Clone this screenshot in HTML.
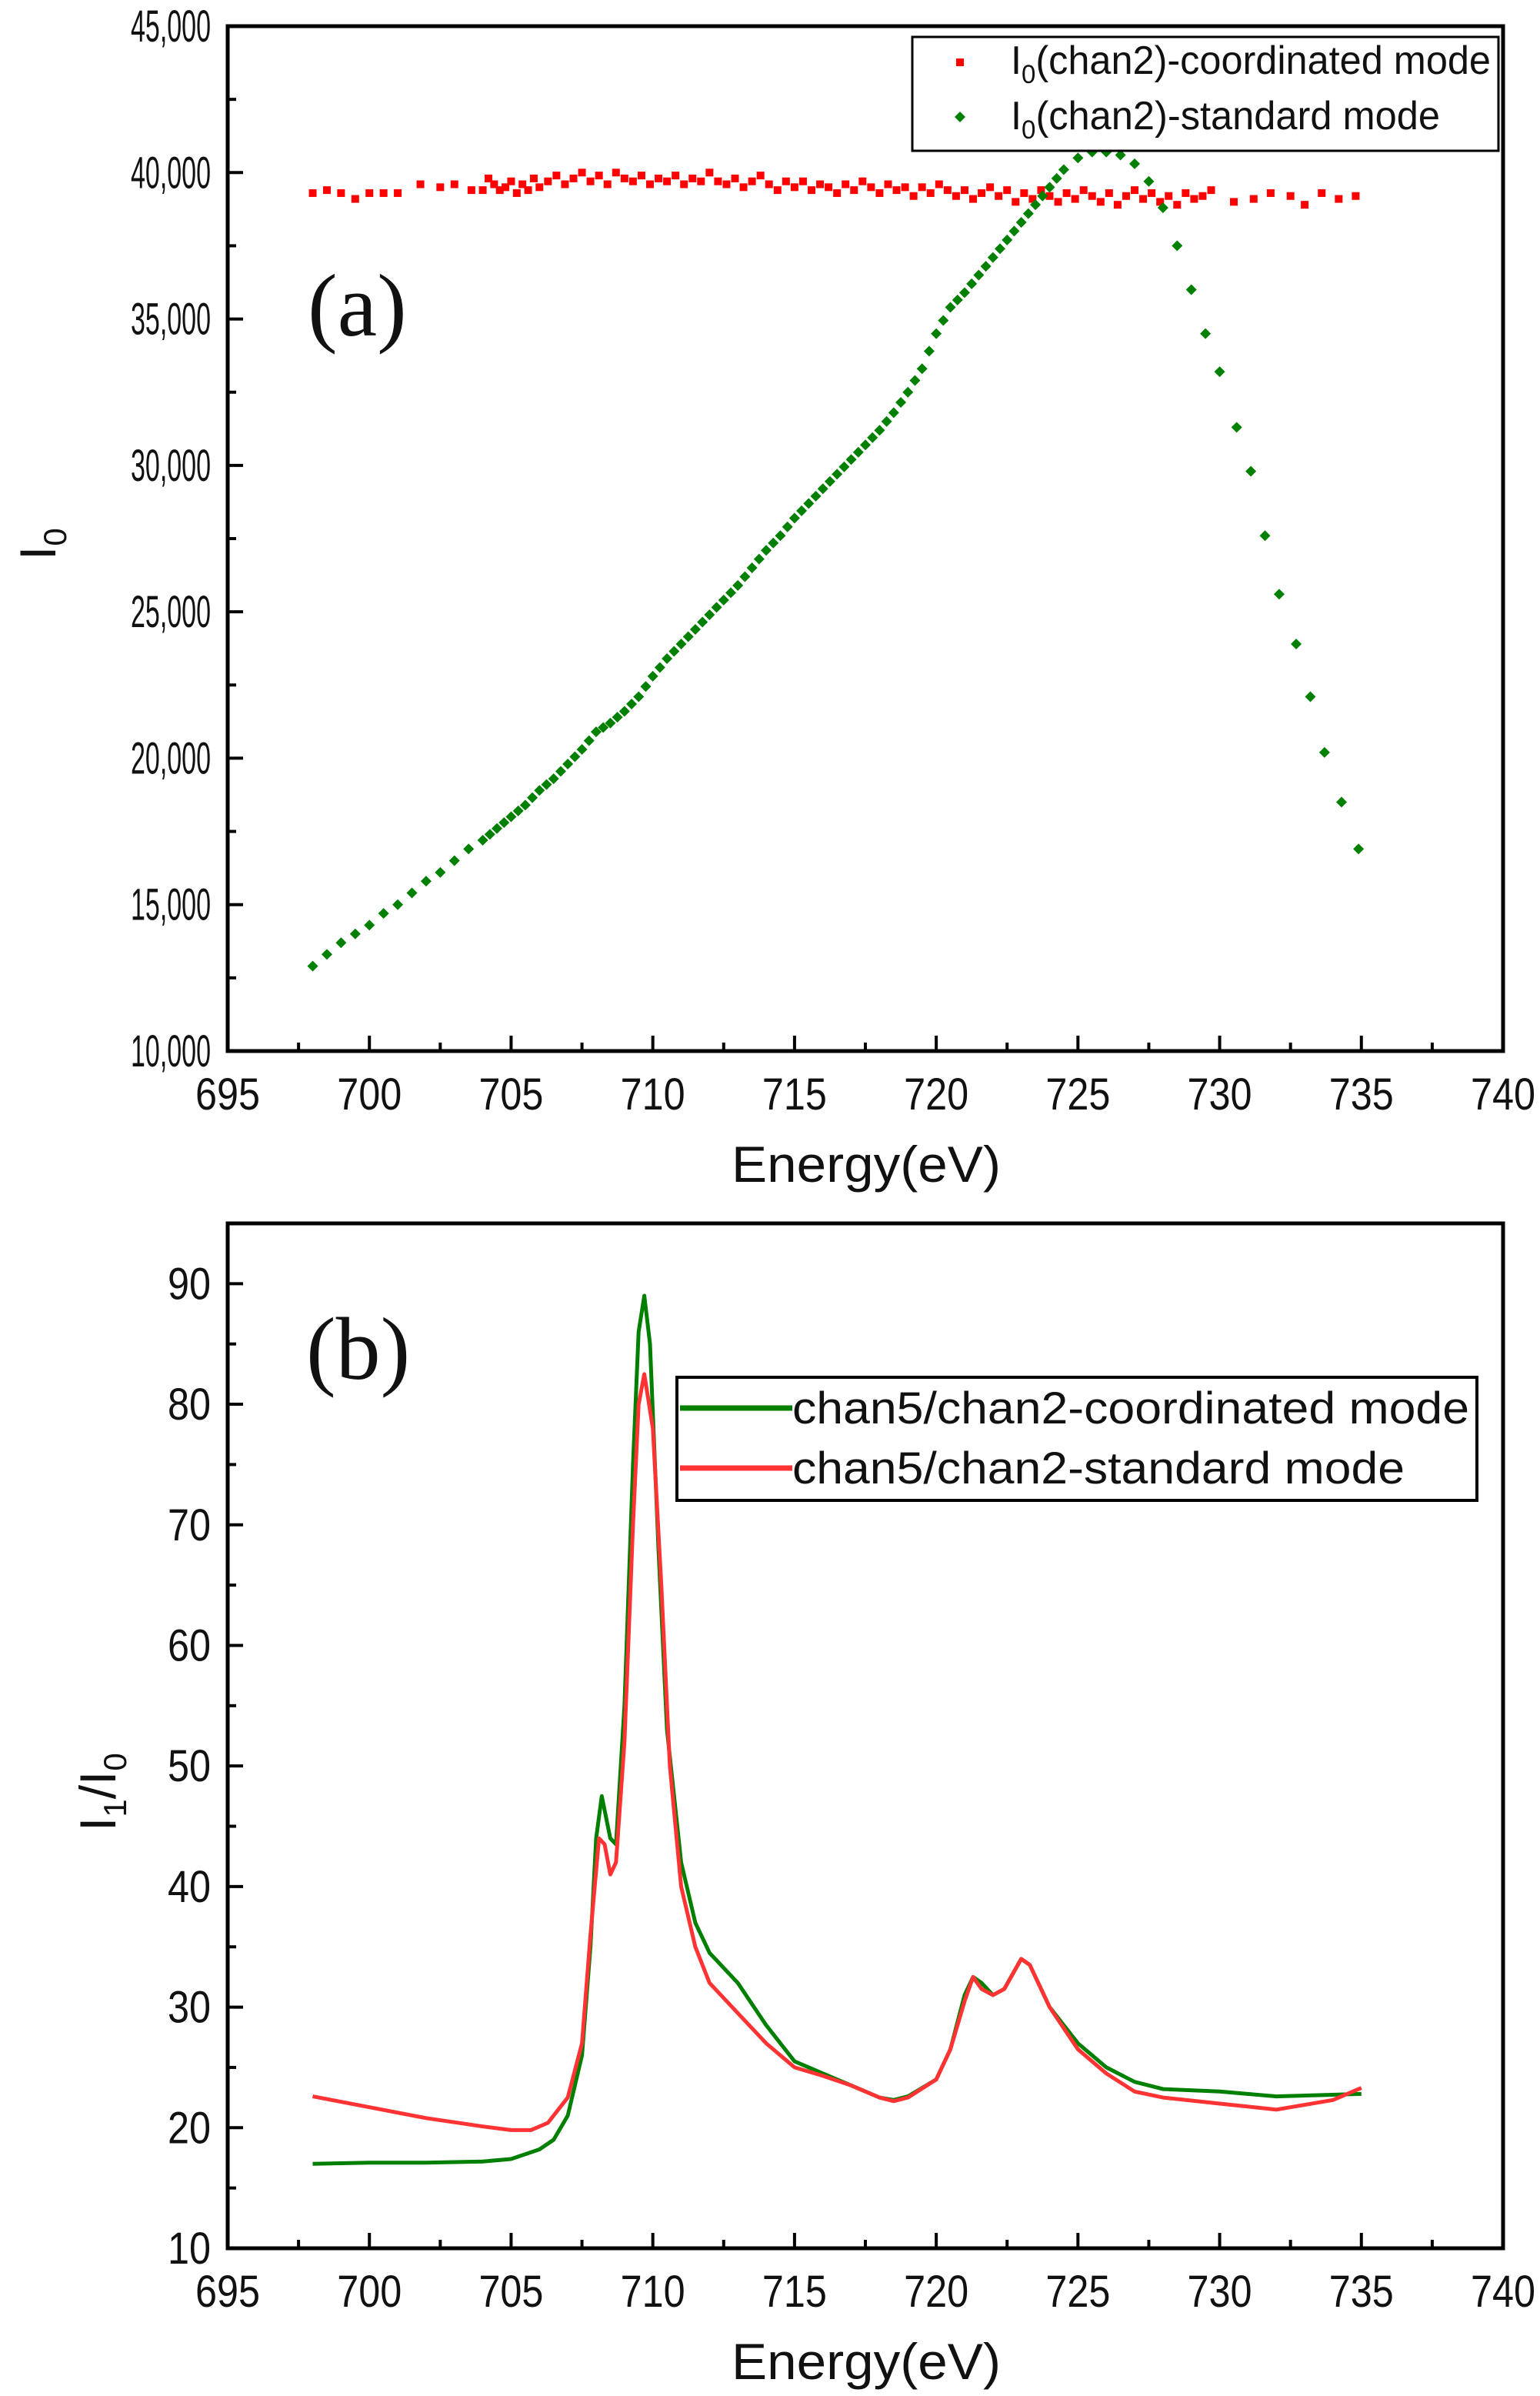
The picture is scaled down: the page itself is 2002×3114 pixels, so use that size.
<!DOCTYPE html>
<html><head><meta charset="utf-8"><style>
html,body{margin:0;padding:0;background:#fff;}
svg{display:block;}
text{font-family:"Liberation Sans Narrow","Liberation Sans",sans-serif;fill:#111;}
</style></head>
<body>
<svg id="fig" width="2002" height="3114" viewBox="0 0 2002 3114" xmlns="http://www.w3.org/2000/svg"></svg>
<script>
// ---- Panel (a) data ----
const greenE = [698,698.5,699,699.5,700,700.5,701,701.5,702,702.5,703,703.5,704,704.25,704.5,704.75,705,705.25,705.5,705.75,706,706.25,706.5,706.75,707,707.25,707.5,707.75,708,708.25,708.5,708.75,709,709.25,709.5,709.75,710,710.25,710.5,710.75,711,711.25,711.5,711.75,712,712.25,712.5,712.75,713,713.25,713.5,713.75,714,714.25,714.5,714.75,715,715.25,715.5,715.75,716,716.25,716.5,716.75,717,717.25,717.5,717.75,718,718.25,718.5,718.75,719,719.25,719.5,719.75,720,720.25,720.5,720.75,721,721.25,721.5,721.75,722,722.25,722.5,722.75,723,723.25,723.5,723.75,724,724.25,724.5,725,725.5,726,726.5,727,727.5,728,728.5,729,729.5,730,730.6,731.1,731.6,732.1,732.7,733.2,733.7,734.3,734.9];
const greenI0 = [12900,13300,13700,14000,14300,14700,15000,15400,15800,16100,16500,16900,17200,17400,17600,17800,18000,18200,18400,18650,18900,19100,19300,19550,19800,20050,20300,20600,20900,21050,21200,21400,21600,21850,22100,22450,22800,23100,23400,23650,23900,24150,24400,24650,24900,25150,25400,25650,25900,26200,26500,26800,27100,27350,27600,27900,28200,28450,28700,28950,29200,29450,29700,29950,30200,30450,30700,30950,31200,31500,31800,32150,32500,32900,33300,33900,34500,34950,35400,35650,35900,36200,36500,36800,37100,37400,37700,38000,38300,38600,38900,39200,39500,39800,40100,40500,40700,40700,40600,40300,39700,38800,37500,36000,34500,33200,31300,29800,27600,25600,23900,22100,20200,18500,16900];
const redE = [698,698.5,699,699.5,700,700.5,701,701.8,702.5,703,703.6,704,704.2,704.4,704.6,704.8,705,705.2,705.4,705.6,705.8,706,706.3,706.6,706.9,707.2,707.5,707.8,708.1,708.4,708.7,709,709.3,709.6,709.9,710.2,710.5,710.8,711.1,711.4,711.7,712,712.3,712.6,712.9,713.2,713.5,713.8,714.1,714.4,714.7,715,715.3,715.6,715.9,716.2,716.5,716.8,717.1,717.4,717.7,718,718.3,718.6,718.9,719.2,719.5,719.8,720.1,720.4,720.7,721,721.3,721.6,721.9,722.2,722.5,722.8,723.1,723.4,723.7,724,724.3,724.6,724.9,725.2,725.5,725.8,726.1,726.4,726.7,727,727.3,727.6,727.9,728.2,728.5,728.8,729.1,729.4,729.7,730.5,731.2,731.8,732.5,733,733.6,734.2,734.8];
const redI0 = [39300,39400,39300,39100,39300,39300,39300,39600,39500,39600,39400,39400,39800,39600,39400,39500,39700,39300,39600,39400,39800,39500,39700,39900,39600,39800,40000,39700,39900,39600,40000,39800,39700,39900,39600,39800,39700,39900,39600,39800,39700,40000,39700,39600,39800,39500,39700,39900,39600,39400,39700,39500,39700,39400,39600,39500,39300,39600,39400,39700,39500,39300,39600,39400,39500,39200,39500,39300,39600,39400,39200,39400,39100,39300,39500,39200,39400,39000,39300,39100,39400,39200,39000,39300,39100,39400,39200,39000,39300,38900,39200,39400,39100,39300,39000,39200,38900,39300,39100,39200,39400,39000,39100,39300,39200,38900,39300,39100,39200];
const aXTicks = [695,700,705,710,715,720,725,730,735,740];
const aYTicks = [10000,15000,20000,25000,30000,35000,40000,45000];
const aYLabels = ["10,000","15,000","20,000","25,000","30,000","35,000","40,000","45,000"];
// ---- Panel (b) data ----
const coordE = [698,700,702,704,705,706,706.5,707,707.5,707.8,708,708.2,708.5,708.7,709,709.3,709.5,709.7,709.9,710.2,710.5,711,711.5,712,713,714,715,716,717,718,718.5,719,720,720.5,721,721.3,721.6,722,722.4,723,723.3,724,725,726,727,728,730,732,735];
const coordR = [17,17.1,17.1,17.2,17.4,18.2,19,21,26,35,44,47.5,44,43.5,55,75,86,89,85,68,53,42,37,34.5,32,28.5,25.5,24.5,23.5,22.5,22.3,22.6,24,26.5,31,32.5,32,31,31.5,34,33.5,30,27,25,23.8,23.2,23,22.6,22.8];
const stdE = [698,700,702,704,705,705.7,706.3,707,707.5,707.8,708.1,708.3,708.5,708.7,709,709.3,709.5,709.7,710,710.3,710.6,711,711.5,712,713,714,715,716,717,718,718.5,719,720,720.5,721,721.3,721.6,722,722.4,723,723.3,724,725,726,727,728,730,732,734,735];
const stdR = [22.6,21.7,20.8,20.1,19.8,19.8,20.4,22.5,27,36,44,43.5,41,42,52,70,80,82.5,78,65,50,40,35,32,29.5,27,25,24.3,23.5,22.5,22.2,22.5,24,26.5,30.5,32.5,31.5,31,31.5,34,33.5,30,26.5,24.5,23,22.5,22,21.5,22.3,23.3];
const bYTicks = [10,20,30,40,50,60,70,80,90];

const NS="http://www.w3.org/2000/svg";
const svg=document.getElementById('fig');
function el(tag,attrs,parent){const e=document.createElementNS(NS,tag);for(const k in attrs)e.setAttribute(k,attrs[k]);(parent||svg).appendChild(e);return e;}
function tl(s){return s.length>=6?104:(s.length===3?84:56);}

function panel(cfg){
  const g=el('g',{});
  
  
  const L=296,R=1954,T=cfg.top,B=cfg.bottom;
  const sx=v=>L+(v-695)/(740-695)*(R-L);
  const sy=v=>B-(v-cfg.ymin)/(cfg.ymax-cfg.ymin)*(B-T);
  for(let i=0;i<aXTicks.length;i++){
    const v=aXTicks[i],x=sx(v);
    const t=el('line',{x1:x,x2:x,y1:B,y2:B-20,stroke:'#000','stroke-width':4},g);
    
    
    if(i<aXTicks.length-1){const xm=sx(v+2.5);const m=el('line',{x1:xm,x2:xm,y1:B,y2:B-11,stroke:'#000','stroke-width':4},g);
      
      }
    const lb=el('text',{x:x,y:B+76,'font-size':58,'text-anchor':'middle',textLength:tl(String(v)),lengthAdjust:'spacingAndGlyphs'},g);lb.textContent=v;
    
    
  }
  for(let i=0;i<cfg.yTicks.length;i++){
    const v=cfg.yTicks[i],y=sy(v);
    const t=el('line',{x1:L,x2:L+20,y1:y,y2:y,stroke:'#000','stroke-width':4},g);
    
    
    if(i<cfg.yTicks.length-1){const ym=sy(v+cfg.minor);if(ym>T+3){const m=el('line',{x1:L,x2:L+11,y1:ym,y2:ym,stroke:'#000','stroke-width':4},g);
      
      }}
    const s=cfg.yLabels[i];
    const lb=el('text',{x:L-22-tl(s),y:y+20,'font-size':58,textLength:tl(s),lengthAdjust:'spacingAndGlyphs'},g);lb.textContent=s;
    
    
  }
  const f=el('rect',{x:L,y:T,width:R-L,height:B-T,fill:'none',stroke:'#000','stroke-width':5},g);
  
  
  const xt=el('text',{x:1126,y:B+170,'font-size':66,'text-anchor':'middle',textLength:350,lengthAdjust:'spacingAndGlyphs'},g);xt.textContent='Energy(eV)';
  
  
  return {g,sx,sy};
}

const pa=panel({name:'panel-a',top:34,bottom:1366,ymin:10000,ymax:45000,yTicks:aYTicks,yLabels:aYLabels,minor:2500});
for(let i=0;i<redE.length;i++){
  const r=el('rect',{x:pa.sx(redE[i])-5,y:pa.sy(redI0[i])-5,width:10,height:10,fill:'#ff0000'},pa.g);
  
  
}
for(let i=0;i<greenE.length;i++){
  const x=pa.sx(greenE[i]),y=pa.sy(greenI0[i]);
  const p=el('polygon',{points:`${x},${y-7} ${x+7},${y} ${x},${y+7} ${x-7},${y}`,fill:'#008000'},pa.g);
  
  
}
(function(){
  const g=pa.g;
  const yt=el('text',{x:0,y:0,'font-size':66,transform:'translate(72,728) rotate(-90)'},g);
  yt.innerHTML='I<tspan font-size="42" dy="14">0</tspan>';
  
  
  const tag=el('text',{x:400,y:436,'font-size':116,style:'font-family:"Liberation Serif",serif'},g);tag.textContent='(a)';
  
  
  const lg=el('g',{},g);
  
  
  el('rect',{x:1186,y:48,width:762,height:148,fill:'#fff',stroke:'#000','stroke-width':3},lg);
  const m1=el('rect',{x:1243,y:76,width:10,height:10,fill:'#ff0000'},lg);
  
  
  const m2=el('polygon',{points:'1248,145 1255,152 1248,159 1241,152',fill:'#008000'},lg);
  
  
  const t1=el('text',{x:1314,y:96,'font-size':52,textLength:624,lengthAdjust:'spacingAndGlyphs'},lg);t1.innerHTML='I<tspan font-size="34" dy="12">0</tspan><tspan dy="-12">(chan2)-coordinated mode</tspan>';
  
  
  const t2=el('text',{x:1314,y:168,'font-size':52,textLength:558,lengthAdjust:'spacingAndGlyphs'},lg);t2.innerHTML='I<tspan font-size="34" dy="12">0</tspan><tspan dy="-12">(chan2)-standard mode</tspan>';
  
  
})();

const pb=panel({name:'panel-b',top:1590,bottom:2922,ymin:10,ymax:95,yTicks:bYTicks,yLabels:bYTicks.map(String),minor:5});
function line(E,R,color,name){
  let d='';for(let i=0;i<E.length;i++)d+=(i?'L':'M')+pb.sx(E[i]).toFixed(1)+','+pb.sy(R[i]).toFixed(1);
  const p=el('path',{d:d,fill:'none',stroke:color,'stroke-width':5,'stroke-linejoin':'round'},pb.g);
  
  
}
line(coordE,coordR,'#007f00','line-coordinated');
line(stdE,stdR,'#ff3333','line-standard');
(function(){
  const g=pb.g;
  const yt=el('text',{x:0,y:0,'font-size':66,transform:'translate(150,2380) rotate(-90)'},g);
  yt.innerHTML='I<tspan font-size="42" dy="14">1</tspan><tspan dy="-14">/I</tspan><tspan font-size="42" dy="14">0</tspan>';
  
  
  const tag=el('text',{x:398,y:1792,'font-size':116,style:'font-family:"Liberation Serif",serif'},g);tag.textContent='(b)';
  
  
  const lg=el('g',{},g);
  
  
  el('rect',{x:880,y:1790,width:1040,height:160,fill:'#fff',stroke:'#000','stroke-width':4},lg);
  el('line',{x1:884,x2:1030,y1:1830,y2:1830,stroke:'#007f00','stroke-width':7},lg);
  el('line',{x1:884,x2:1030,y1:1908,y2:1908,stroke:'#ff3333','stroke-width':7},lg);
  const t1=el('text',{x:1030,y:1850,'font-size':58,textLength:880,lengthAdjust:'spacingAndGlyphs'},lg);t1.textContent='chan5/chan2-coordinated mode';
  
  
  const t2=el('text',{x:1030,y:1928,'font-size':58,textLength:796,lengthAdjust:'spacingAndGlyphs'},lg);t2.textContent='chan5/chan2-standard mode';
  
  
})();
</script>
</body></html>
